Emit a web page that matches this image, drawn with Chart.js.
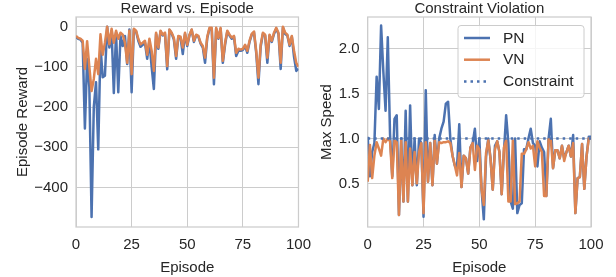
<!DOCTYPE html>
<html><head><meta charset="utf-8">
<script src="https://cdn.jsdelivr.net/npm/chart.js@4.4.1/dist/chart.umd.min.js"></script>
<style>
html,body{margin:0;padding:0;background:#fff;}
#wrap{position:relative;width:616px;height:277px;overflow:hidden;background:#fff;}
#c1{position:absolute;left:0;top:0;width:320px;height:277px;}
#c2{position:absolute;left:300px;top:0;width:316px;height:277px;}
</style></head><body>
<div id="wrap"><canvas id="c1" width="320" height="277"></canvas><canvas id="c2" width="316" height="277"></canvas></div>
<script>
const episodes = [0,1,2,3,4,5,6,7,8,9,10,11,12,13,14,15,16,17,18,19,20,21,22,23,24,25,26,27,28,29,30,31,32,33,34,35,36,37,38,39,40,41,42,43,44,45,46,47,48,49,50,51,52,53,54,55,56,57,58,59,60,61,62,63,64,65,66,67,68,69,70,71,72,73,74,75,76,77,78,79,80,81,82,83,84,85,86,87,88,89,90,91,92,93,94,95,96,97,98,99,100];

const rewardPN = [-25,-30,-32,-40,-253,-80,-150,-473,-200,-138,-305,-48,-126,-122,0,-52,-11,-165,-15,-163,-23,-48,-23,-93,-7,-163,-8,-12,-35,-50,-45,-40,-80,-35,-100,-155,-18,-55,-12,-22,-18,-106,-8,-17,-32,-80,-25,-28,-68,-18,-48,-22,-8,-38,-22,-25,-42,-52,-90,-28,-5,-5,-143,-5,-30,-5,-90,-45,-12,-22,-30,-25,-73,-60,-60,-58,-48,-65,-38,-20,-14,-65,-143,-50,-18,-22,-90,-22,-38,-18,-5,-18,-105,-2,-18,-22,-48,-25,-75,-110,-105];

const rewardVN = [-23,-28,-30,-35,-105,-36,-100,-160,-130,-80,-118,-19,-70,-40,0,-44,-5,-40,-10,-30,-15,-20,-40,-90,-10,-118,-5,-10,-30,-44,-40,-35,-70,-30,-60,-110,-15,-52,-10,-20,-15,-98,-7,-15,-28,-73,-23,-25,-52,-15,-45,-20,-7,-35,-20,-23,-40,-48,-77,-25,-3,-3,-127,-3,-28,-3,-85,-40,-10,-20,-27,-23,-65,-55,-57,-55,-45,-60,-35,-18,-12,-60,-127,-45,-15,-20,-77,-20,-35,-15,-3,-15,-90,0,-15,-20,-45,-23,-60,-90,-100];

const speedPN = [1.02,0.58,0.85,0.95,1.69,1.33,2.26,1.75,1.31,2.13,1.05,0.58,1.22,1.26,0.15,1.0,0.30,1.31,0.30,1.37,0.48,1.0,0.48,1.0,0.95,0.13,1.54,0.52,0.95,0.48,1.04,0.72,1.0,1.11,1.19,1.39,1.41,1.0,0.81,0.70,0.68,1.16,0.46,0.81,0.78,0.61,0.9,0.95,1.11,0.75,1.0,0.43,0.10,0.8,1.0,0.78,0.43,0.92,0.97,0.85,0.38,0.85,1.26,0.95,0.30,0.22,1.0,0.17,0.26,0.28,0.88,0.88,1.0,1.11,0.95,0.92,0.69,0.97,0.9,0.85,0.36,1.0,1.22,0.67,0.87,0.87,0.78,0.92,0.78,0.85,0.92,0.8,1.04,0.17,0.56,0.57,0.94,0.44,0.8,1.02,1.02];

const speedVN = [0.52,0.93,0.56,0.81,0.96,0.89,0.81,1.0,0.96,1.0,0.97,0.56,0.98,0.96,0.15,0.98,0.30,0.96,0.30,0.89,0.48,0.85,0.50,0.85,0.95,0.17,0.96,0.52,0.95,0.48,0.98,0.72,0.96,0.95,0.96,0.96,0.97,0.95,0.81,0.70,0.59,0.84,0.46,0.81,0.78,0.61,0.9,0.95,0.65,0.92,0.88,0.43,0.26,0.84,0.98,0.78,0.43,0.88,0.97,0.85,0.38,0.9,0.98,0.30,0.30,0.98,0.27,0.28,0.30,0.83,0.83,0.88,0.96,0.89,0.92,0.69,0.97,0.90,0.85,0.36,0.36,0.99,0.99,0.67,0.87,0.87,0.78,0.92,0.75,0.85,0.92,0.8,0.95,0.17,0.56,0.57,0.94,0.44,0.80,1.0,1.0];

const constraintLevel = 1.0;
const xTicks = [0, 25, 50, 75, 100];
const rewardTicks = [-400, -300, -200, -100, 0];
const speedTicks = [0.5, 1.0, 1.5, 2.0];

const BLUE = '#4C72B0', ORANGE = '#DD8452';
const TXT = '#262626', GRID = '#cccccc';
const FONT = "'Liberation Sans', Arial, sans-serif";
Chart.defaults.font.family = FONT;
Chart.defaults.color = TXT;

const frame = {
  id: 'frame',
  beforeDatasetsDraw(chart) {
    const {ctx, chartArea: a} = chart;
    ctx.save();
    ctx.strokeStyle = GRID; ctx.lineWidth = 1.25;
    ctx.strokeRect(a.left, a.top, a.right - a.left, a.bottom - a.top);
    ctx.restore();
  }
};

const innerLegend = {
  id: 'innerLegend',
  afterDraw(chart) {
    const {ctx, chartArea: a} = chart;
    const w = 126, h = 72;
    const x0 = a.right - 7 - w, y0 = a.top + 8.5;
    ctx.save();
    ctx.beginPath();
    if (ctx.roundRect) ctx.roundRect(x0, y0, w, h, 3); else ctx.rect(x0, y0, w, h);
    ctx.fillStyle = 'rgba(255,255,255,0.8)'; ctx.fill();
    ctx.strokeStyle = GRID; ctx.lineWidth = 1; ctx.stroke();
    chart.data.datasets.forEach((ds, i) => {
      const y = y0 + 12.5 + i * 21.7;
      ctx.beginPath();
      ctx.strokeStyle = ds.borderColor; ctx.lineWidth = ds.borderWidth;
      ctx.setLineDash(ds.borderDash || []);
      ctx.moveTo(x0 + 6, y); ctx.lineTo(x0 + 32, y); ctx.stroke();
      ctx.setLineDash([]);
      ctx.fillStyle = TXT; ctx.font = '15.5px ' + FONT;
      ctx.textBaseline = 'middle'; ctx.textAlign = 'left';
      ctx.fillText(ds.label, x0 + 45, y + 0.5);
    });
    ctx.restore();
  }
};

function makeOptions(title, yLabel, yMin, yMax, yTicks, fmt, yAxisWidth, yTitlePad, padRight) {
  return {
    responsive: false, animation: false, devicePixelRatio: 1,
    layout: { padding: { left: 0, right: padRight, top: 0, bottom: 0 } },
    plugins: {
      legend: { display: false }, tooltip: { enabled: false },
      title: { display: true, text: title, fullSize: false, color: TXT,
               font: { size: 15, weight: 'normal', lineHeight: 16/15 }, padding: 0 }
    },
    scales: {
      x: {
        type: 'linear', min: 0, max: 100,
        afterBuildTicks: s => { s.ticks = xTicks.map(v => ({ value: v })); },
        afterFit: s => { s.height = 50; },
        ticks: { font: { size: 15 }, color: TXT, padding: 9, maxRotation: 0, autoSkip: false },
        grid: { color: GRID, lineWidth: 1, drawTicks: false },
        border: { display: false },
        title: { display: true, text: 'Episode', color: TXT, font: { size: 15, lineHeight: 1.2 }, padding: { top: 0, bottom: 0 } }
      },
      y: {
        type: 'linear', min: yMin, max: yMax,
        afterBuildTicks: s => { s.ticks = yTicks.map(v => ({ value: v })); },
        afterFit: s => { s.width = yAxisWidth; },
        ticks: { font: { size: 15 }, color: TXT, padding: 8, callback: fmt, autoSkip: false },
        grid: { color: GRID, lineWidth: 1, drawTicks: false },
        border: { display: false },
        title: { display: true, text: yLabel, color: TXT, font: { size: 15, lineHeight: 1.2 }, padding: { top: yTitlePad, bottom: 0 } }
      }
    }
  };
}

const pts = arr => episodes.map((e, i) => ({ x: e, y: arr[i] }));
const lineDs = (label, data, color, order, extra) => Object.assign({
  label, data, borderColor: color, backgroundColor: color, borderWidth: 2.5,
  pointRadius: 0, tension: 0, fill: false, order, borderJoinStyle: 'round', borderCapStyle: 'butt'
}, extra || {});

new Chart(document.getElementById('c1'), {
  type: 'line',
  data: { datasets: [
    lineDs('PN', pts(rewardPN), BLUE, 2),
    lineDs('VN', pts(rewardVN), ORANGE, 1)
  ] },
  options: makeOptions('Reward vs. Episode', 'Episode Reward', -498, 24, rewardTicks,
    v => (v < 0 ? '\u2212' + Math.abs(v) : String(v)), 76, 14, 20),
  plugins: [frame]
});

new Chart(document.getElementById('c2'), {
  type: 'line',
  data: { datasets: [
    lineDs('PN', pts(speedPN), BLUE, 2),
    lineDs('VN', pts(speedVN), ORANGE, 1),
    lineDs('Constraint', episodes.map(e => ({ x: e, y: constraintLevel })), BLUE, 0, { borderDash: [2.5, 4] })
  ] },
  options: makeOptions('Constraint Violation', 'Max Speed', 0.015, 2.355, speedTicks,
    v => Number(v).toFixed(1), 67.7, 18, 25),
  plugins: [frame, innerLegend]
});
</script>
</body></html>
